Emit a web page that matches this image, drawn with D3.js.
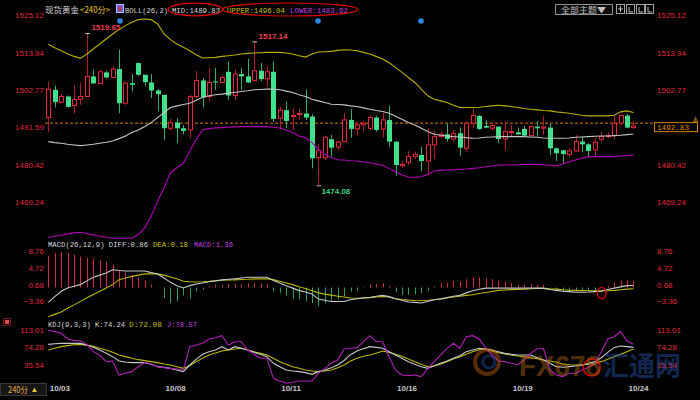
<!DOCTYPE html>
<html><head><meta charset="utf-8">
<script src="https://cdn.jsdelivr.net/npm/d3@7"></script>
<style>html,body{margin:0;padding:0;background:#000;}svg{display:block;}</style>
</head><body>
<svg id="chart" width="700" height="400"></svg>
<script>
// ---------- DATA ----------
const open=[1494.5,1502.8,1499.1,1500.8,1498.1,1500.0,1500.8,1506.8,1504.7,1508.0,
1506.5,1509.0,1498.8,1504.8,1510.8,1507.3,1505.0,1502.6,1501.3,1491.3,
1493.0,1491.3,1490.8,1500.8,1505.6,1500.8,1505.3,1505.0,1508.2,1501.1,
1507.5,1506.8,1505.6,1508.5,1506.1,1508.2,1494.3,1496.7,1494.8,1495.5,
1495.7,1494.8,1482.5,1482.5,1488.0,1485.7,1487.3,1493.8,1491.1,1492.3,
1491.3,1494.5,1491.1,1493.8,1487.3,1480.1,1481.1,1482.8,1483.3,1481.5,
1486.3,1488.8,1489.5,1488.1,1489.8,1485.3,1492.8,1495.0,1492.0,1491.3,
1491.8,1488.1,1490.1,1490.1,1491.1,1489.1,1491.8,1491.3,1491.5,1485.3,
1484.7,1483.5,1484.5,1487.3,1486.5,1484.8,1488.0,1488.8,1489.1,1492.8,
1495.1,1491.5];
const close=[1503.0,1499.1,1500.8,1497.7,1499.9,1500.8,1506.8,1504.7,1508.2,1506.5,
1509.0,1498.8,1504.8,1504.3,1507.3,1505.1,1502.6,1501.5,1491.3,1493.0,
1491.3,1490.5,1500.8,1505.6,1500.5,1505.0,1505.0,1506.5,1501.1,1507.5,
1506.8,1505.0,1508.5,1506.0,1508.2,1494.1,1496.7,1493.5,1495.1,1495.7,
1494.5,1482.3,1484.6,1488.6,1485.5,1487.2,1493.8,1491.1,1492.3,1492.8,
1494.5,1490.8,1493.8,1487.3,1480.3,1480.5,1482.8,1483.5,1481.5,1486.3,
1488.8,1489.5,1488.1,1489.7,1485.5,1492.8,1495.1,1491.1,1491.5,1492.1,
1488.1,1490.3,1490.3,1489.5,1489.1,1491.8,1491.3,1491.7,1485.3,1483.8,
1483.6,1484.5,1487.3,1486.5,1484.5,1487.1,1488.8,1489.1,1492.8,1495.1,
1491.5,1492.0];
const high=[1505.3,1504.1,1501.5,1501.1,1504.1,1504.9,1519.65,1508.8,1508.8,1508.5,
1509.8,1514.8,1505.3,1507.5,1511.0,1507.3,1507.5,1503.1,1501.3,1494.1,
1494.3,1492.3,1501.3,1508.5,1506.3,1509.3,1509.3,1507.0,1511.3,1508.9,
1509.3,1512.1,1517.14,1510.8,1509.8,1511.3,1497.7,1499.3,1497.3,1497.1,
1502.9,1495.5,1486.5,1489.1,1489.3,1487.5,1495.8,1497.0,1493.3,1493.3,
1495.1,1495.1,1495.8,1498.1,1487.3,1481.5,1484.5,1484.3,1485.8,1491.3,
1490.5,1490.3,1492.8,1490.8,1491.5,1493.3,1497.1,1495.3,1493.8,1492.8,
1491.8,1493.3,1492.3,1491.5,1492.0,1492.1,1493.5,1495.1,1492.8,1485.5,
1484.8,1485.5,1489.3,1488.8,1486.8,1488.5,1490.3,1490.1,1495.1,1495.5,
1495.5,1493.3];
const low=[1490.1,1497.5,1498.8,1497.5,1495.7,1498.3,1500.8,1504.7,1504.5,1506.2,
1506.3,1495.8,1498.3,1502.3,1507.0,1504.1,1500.3,1496.3,1487.8,1490.5,
1486.8,1489.5,1488.3,1500.3,1497.5,1499.5,1502.8,1504.8,1499.8,1499.8,
1502.8,1504.8,1505.6,1505.3,1503.8,1493.3,1491.3,1491.3,1490.8,1493.8,
1493.8,1479.3,1474.08,1481.8,1482.8,1484.8,1487.1,1488.5,1489.1,1490.3,
1490.8,1490.3,1488.5,1485.8,1477.1,1479.5,1480.3,1482.1,1478.5,1477.3,
1482.1,1488.5,1487.3,1487.3,1483.1,1484.3,1491.3,1490.8,1491.3,1490.5,
1486.8,1484.8,1488.8,1489.3,1488.8,1488.8,1488.8,1489.3,1483.3,1481.5,
1480.8,1482.8,1484.3,1484.1,1482.8,1482.8,1487.3,1488.3,1488.1,1492.3,
1491.3,1491.1];
const bollUpper=[1516.4,1515.4,1514.5,1513.6,1512.8,1512.2,1513.5,1515.0,1516.5,1518.0,
1519.5,1520.8,1522.0,1523.0,1523.8,1524.0,1523.8,1522.5,1519.5,1517.8,
1516.5,1515.5,1514.5,1513.3,1512.3,1512.4,1512.5,1512.8,1513.0,1513.2,
1513.5,1513.7,1513.8,1513.9,1514.0,1514.0,1514.0,1513.8,1513.5,1513.0,
1512.6,1513.5,1514.1,1514.2,1514.3,1514.6,1514.8,1514.7,1514.5,1514.0,
1513.5,1512.8,1512.0,1510.9,1509.5,1508.0,1506.5,1505.0,1503.0,1501.0,
1500.0,1499.5,1499.0,1498.2,1497.5,1497.5,1497.5,1497.6,1497.8,1498.0,
1498.2,1498.0,1497.8,1497.5,1497.2,1497.0,1496.8,1496.6,1496.5,1496.2,
1496.0,1495.8,1495.5,1495.2,1495.0,1495.0,1495.0,1495.0,1495.2,1496.2,
1496.5,1496.0];
const bollMid=[1487.3,1487.0,1486.8,1486.5,1486.3,1486.1,1486.3,1486.5,1486.8,1487.1,
1487.5,1488.2,1489.0,1490.0,1490.8,1491.8,1493.0,1494.5,1496.0,1497.5,
1498.0,1498.4,1498.8,1499.7,1500.6,1501.0,1501.3,1501.5,1501.8,1502.0,
1502.3,1502.5,1502.8,1502.9,1503.0,1503.0,1502.8,1502.4,1502.0,1501.3,
1500.8,1500.0,1499.5,1499.0,1498.5,1498.4,1498.3,1498.0,1497.8,1497.4,
1497.0,1496.6,1496.3,1495.8,1494.9,1494.0,1493.0,1492.3,1491.3,1490.3,
1489.5,1489.2,1489.0,1488.8,1488.7,1488.5,1488.3,1488.4,1488.6,1488.7,
1488.8,1488.8,1488.8,1488.8,1488.8,1488.7,1488.6,1488.4,1488.3,1488.3,
1488.3,1488.4,1488.6,1488.7,1488.8,1488.9,1489.0,1489.0,1489.1,1489.2,
1489.4,1489.6];
const bollLower=[1458.6,1459.0,1459.3,1459.7,1460.0,1460.2,1459.8,1459.4,1459.0,1458.7,
1458.4,1458.4,1458.4,1458.4,1459.5,1461.5,1465.0,1469.5,1473.5,1478.0,
1479.5,1480.8,1484.5,1488.0,1490.8,1491.2,1491.4,1491.5,1491.6,1491.7,
1491.8,1491.8,1491.8,1491.8,1491.8,1491.6,1491.4,1490.8,1490.0,1489.0,
1488.5,1487.0,1485.0,1483.5,1482.5,1481.9,1481.8,1481.6,1481.5,1481.2,
1481.0,1480.6,1480.2,1479.3,1478.3,1477.3,1476.7,1476.6,1476.8,1477.5,
1478.5,1478.7,1478.8,1478.9,1479.0,1479.1,1479.3,1479.5,1479.8,1480.0,
1480.3,1480.3,1480.4,1480.4,1480.5,1480.5,1480.5,1480.4,1480.2,1480.1,
1480.6,1481.3,1481.8,1482.3,1482.8,1482.8,1482.8,1482.8,1482.8,1483.0,
1483.1,1483.3];
const macdHist=[7.55,8.35,8.6,8.35,7.95,7.55,7.14,6.9,6.58,6.17,
5.53,4.15,3.68,2.94,2.3,1.65,0.68,0.1,-2.54,-3.75,
-3.35,-1.9,-2.7,-0.93,-0.5,0.3,0.7,0.55,0.85,0.9,
0.85,1.0,1.1,0.9,0.85,-0.9,-1.3,-2.1,-2.7,-2.9,
-3.35,-3.75,-4.55,-3.75,-3.35,-2.9,-2.1,-0.97,-0.8,0.16,
0.65,0.8,1.05,0.4,-1.13,-1.77,-1.77,-1.6,-1.37,-0.8,
0.24,1.05,1.2,1.6,1.45,2.0,2.5,2.42,2.26,2.0,
1.7,1.45,1.05,0.65,0.65,0.8,0.65,0.65,0.1,-0.56,
-0.97,-0.97,-0.97,-0.8,-0.8,-0.8,-0.1,0.4,1.2,1.7,
1.7,1.6];
const macdDiff=[-3.6,-2.2,-0.9,-0.1,0.3,0.7,1.6,2.5,3.0,3.5,
4.3,4.1,4.0,4.0,4.0,4.0,3.6,3.25,2.3,1.25,
0.45,-0.1,0.45,0.85,1.1,1.4,1.6,1.85,2.0,2.1,
2.3,2.5,2.5,2.5,2.5,1.7,1.1,0.45,-0.15,-0.75,
-1.1,-1.55,-2.8,-3.1,-3.4,-3.4,-3.4,-2.95,-2.7,-2.5,
-2.4,-2.1,-1.9,-2.2,-2.7,-3.1,-3.5,-3.6,-3.75,-3.4,
-2.95,-2.7,-2.4,-2.1,-1.9,-1.3,-0.8,-0.4,-0.15,-0.15,
-0.15,-0.15,-0.15,-0.15,-0.15,-0.15,-0.15,-0.2,-0.5,-0.7,
-0.9,-1.0,-1.15,-1.15,-1.1,-1.0,-0.9,-0.5,-0.15,0.15,
0.45,0.5];
const macdDea=[-7.1,-6.5,-5.9,-5.0,-4.2,-3.35,-2.5,-1.7,-0.9,-0.1,
0.7,1.9,2.3,2.7,3.0,3.3,3.3,3.3,3.0,2.55,
2.1,1.5,1.4,1.35,1.4,1.5,1.65,1.75,1.8,1.85,
1.95,2.0,2.1,2.1,2.1,1.9,1.5,1.1,0.7,0.2,
-0.25,-0.8,-1.3,-1.6,-1.85,-2.1,-2.3,-2.55,-2.6,-2.55,
-2.45,-2.3,-2.15,-2.3,-2.7,-2.9,-3.05,-3.15,-3.2,-3.1,
-2.95,-2.8,-2.55,-2.3,-2.1,-1.9,-1.75,-1.45,-1.2,-0.95,
-0.7,-0.6,-0.5,-0.45,-0.4,-0.3,-0.2,-0.15,-0.3,-0.4,
-0.55,-0.65,-0.7,-0.75,-0.8,-0.8,-0.8,-0.8,-0.7,-0.55,
-0.4,-0.3];
const kdjK=[80.8,82.3,83.0,83.0,83.0,83.0,79.4,74.2,68.3,60.9,
53.6,44.0,41.7,40.3,40.3,40.3,36.6,31.4,29.9,27.7,
24.1,20.4,35.1,47.7,58.7,64.6,68.3,75.7,68.3,75.7,
72.0,68.3,63.1,58.7,53.6,38.8,31.4,24.1,21.9,20.4,
18.2,14.5,20.4,24.1,29.2,35.1,45.0,58.0,66.0,71.0,
75.7,74.2,72.0,64.6,57.2,49.9,42.5,36.6,31.4,27.7,
33.6,38.8,44.0,49.9,55.7,64.6,68.3,72.0,70.5,68.3,
64.6,60.9,58.7,57.2,57.2,57.2,51.3,46.2,38.8,31.4,
30.0,31.4,32.9,35.1,38.8,42.5,51.3,63.1,73.5,77.2,
75.7,74.2];
const kdjD=[68.3,72.0,75.7,78.0,80.0,80.8,79.0,76.5,72.0,68.3,
63.1,57.2,53.6,49.9,46.9,44.7,42.5,40.3,37.3,35.1,
31.4,27.7,33.6,42.5,49.9,57.2,61.7,66.1,68.3,70.5,
72.0,68.3,64.6,60.9,57.2,49.9,42.5,36.6,31.4,27.7,
24.1,21.9,20.4,21.9,24.1,29.2,35.1,44.0,50.0,54.3,
57.2,60.9,66.1,63.1,58.7,54.3,48.4,42.5,36.6,31.4,
32.9,36.6,42.5,48.4,53.6,58.7,64.6,69.0,69.8,66.1,
62.4,59.5,57.2,55.0,53.6,51.3,49.1,46.2,44.0,41.0,
37.3,35.8,35.1,35.1,36.6,38.8,42.5,47.7,53.6,58.7,
64.6,70.5];
const kdjJ=[112.6,108.9,105.2,92.6,89.7,88.2,80.8,64.6,57.2,42.5,
44.0,13.0,16.7,20.4,31.4,41.0,36.6,31.4,29.2,27.7,
26.3,24.1,75.7,79.4,83.1,92.6,95.6,100.0,79.4,86.7,
86.7,68.3,58.7,49.9,49.9,5.6,-0.3,-5.4,-3.2,-0.3,
-0.3,-0.3,16.7,27.7,38.8,46.2,70.5,72.0,73.5,86.7,
100.0,86.7,86.7,53.5,24.1,13.0,11.5,13.0,9.3,26.3,
42.5,57.2,72.0,83.1,72.0,97.8,100.0,92.6,73.5,57.2,
44.0,42.5,38.8,35.1,46.2,60.9,70.5,72.0,24.1,13.0,
9.3,16.7,16.7,24.1,30.0,37.3,64.6,92.6,97.8,108.9,
88.2,80.8];
const dateLabels=["10/03","10/08","10/11","10/16","10/19","10/24"];
const dateIndex=[0,18,36,54,72,90];
const priceTicks=[1525.12,1513.94,1502.77,1491.59,1480.42,1469.24];
const priceTicksRight=[1525.12,1513.94,1502.77,1480.42,1469.24];
const macdTicks=[8.76,4.72,0.68,-3.36];
const kdjTicks=[113.01,74.28,35.54];
const lastPrice=1492.83;
const bollLegend=[["MID",1489.83],["UPPER",1496.04],["LOWER",1483.62]];
const macdLegend=[["DIFF",0.86],["DEA",0.18],["MACD",1.36]];
const kdjLegend=[["K",74.24],["D",72.08],["J",78.57]];
const markHigh=[6,32], markLow=[42];

// ---------- CHART ----------
const svg=d3.select("#chart");
svg.append("rect").attr("width",700).attr("height",400).attr("fill","#000");
const n=open.length;
const x=d3.scaleBand().domain(d3.range(n)).range([45.1,45.1+n*6.43]).padding(0);
const cx=i=>x(i)+x.bandwidth()/2;
const yP=d3.scaleLinear().domain([1469.24,1525.12]).range([202.0,15.2]);
const yM=d3.scaleLinear().domain([-3.36,8.76]).range([301.4,251.3]);
const yK=d3.scaleLinear().domain([35.54,113.01]).range([364.8,329.8]);
const RED="#e8283c", REDW="#b01c2c", GRN="#40e08c", GRNW="#2fb070";
const mono="'Liberation Mono','DejaVu Sans Mono',monospace";
const sans="'Liberation Sans',Arial,sans-serif";
const cjk="'Noto Sans CJK SC',sans-serif";

const defs=svg.append("defs");
defs.append("clipPath").attr("id","cp1").append("rect").attr("x",45).attr("y",0).attr("width",609).attr("height",240);

// axes
function axis(scale,ticks,side,xpos){
  const a=(side==="left"?d3.axisLeft(scale):d3.axisRight(scale)).tickValues(ticks).tickFormat(d3.format(".2f")).tickSize(0).tickPadding(0);
  const g=svg.append("g").attr("transform",`translate(${xpos},0)`).call(a);
  g.select(".domain").remove();
  g.selectAll("text").attr("fill","#e0283c").attr("font-family",sans).attr("font-size","8px");
}
axis(yP,priceTicks,"left",44); axis(yM,macdTicks,"left",44); axis(yK,kdjTicks,"left",44);
axis(yP,priceTicksRight,"right",657); axis(yM,macdTicks,"right",657); axis(yK,kdjTicks,"right",657);

// date axis
const xa=svg.append("g").attr("transform","translate(0,388)").call(d3.axisBottom(x).tickValues(dateIndex).tickFormat((d,i)=>dateLabels[i]).tickSize(0).tickPadding(0));
xa.select(".domain").remove();
xa.selectAll("text").attr("fill","#c8c8c8").attr("font-family",sans).attr("font-weight","bold").attr("font-size","8px").attr("text-anchor","start").attr("dx","1.5").attr("dy","0.35em");

// top panel
const topG=svg.append("g").attr("clip-path","url(#cp1)");
topG.append("line").attr("x1",45).attr("x2",654).attr("y1",yP(lastPrice)).attr("y2",yP(lastPrice))
  .attr("stroke","#d87a00").attr("stroke-dasharray","3,2").attr("stroke-width",1);
const cg=topG.append("g");
d3.range(n).forEach(i=>{
  const up=close[i]>=open[i];
  const xc=Math.round(cx(i))+0.5;
  cg.append("line").attr("x1",xc).attr("x2",xc).attr("y1",yP(high[i])).attr("y2",yP(low[i]))
    .attr("stroke",up?REDW:GRNW).attr("stroke-width",1);
  const yt=yP(Math.max(open[i],close[i])), yb=yP(Math.min(open[i],close[i]));
  const h=Math.max(1,yb-yt);
  if(up){
    cg.append("rect").attr("x",xc-2).attr("y",yt).attr("width",4).attr("height",Math.max(h,0.5))
      .attr("fill","#000").attr("stroke",RED).attr("stroke-width",1);
  } else {
    cg.append("rect").attr("x",xc-2.5).attr("y",yt).attr("width",5).attr("height",h).attr("fill",GRN);
  }
});
const lineP=d3.line().x((d,i)=>cx(i)).y(d=>yP(d));
[[bollUpper,"#b8b000"],[bollMid,"#c4c4c4"],[bollLower,"#b000b8"]].forEach(([d,c])=>{
  topG.append("path").attr("d",lineP(d)).attr("fill","none").attr("stroke",c).attr("stroke-width",1.1);
});
markHigh.forEach(i=>{
  const yy=yP(high[i]);
  svg.append("line").attr("x1",cx(i)-1.5).attr("x2",cx(i)+3).attr("y1",yy).attr("y2",yy).attr("stroke","#d0d0d0");
  svg.append("text").attr("x",cx(i)+4.5).attr("y",yy-3).text(d3.format(".2f")(high[i]))
    .attr("fill","#f03c50").attr("font-family",sans).attr("font-weight","bold").attr("font-size","8px");
});
markLow.forEach(i=>{
  const yy=yP(low[i]);
  svg.append("line").attr("x1",cx(i)-1.5).attr("x2",cx(i)+3).attr("y1",yy).attr("y2",yy).attr("stroke","#b0b0b0");
  svg.append("text").attr("x",cx(i)+3).attr("y",yy+8.5).text(d3.format(".2f")(low[i]))
    .attr("fill","#40d080").attr("font-family",sans).attr("font-weight","bold").attr("font-size","8px");
});

// price tag on right
svg.append("rect").attr("x",654.5).attr("y",yP(lastPrice)-0.5).attr("width",43).attr("height",9).attr("fill","#000").attr("stroke","#d88000");
svg.append("text").attr("x",657).attr("y",yP(lastPrice)+7).text(d3.format(".2f")(lastPrice))
  .attr("fill","#e08a00").attr("font-family",mono).attr("font-size","8px").attr("textLength",32).attr("lengthAdjust","spacingAndGlyphs");
svg.append("path").attr("d",`M693,${yP(lastPrice)-2} h5 M694,${yP(lastPrice)-4} h3 M695.5,${yP(lastPrice)-6} v1`).attr("stroke","#e08a00").attr("fill","none");

// blue dots
[[120,21],[318,21],[421,21]].forEach(([a,b])=>svg.append("circle").attr("cx",a).attr("cy",b).attr("r",2.8).attr("fill","#2a86e0"));

// header BOLL
function txt(t,xp,yp,w,c,font,fs){
  const e=svg.append("text").attr("x",xp).attr("y",yp).text(t).attr("fill",c).attr("font-family",font||mono).attr("font-size",(fs||7.4)+"px");
  if(w) e.attr("textLength",w).attr("lengthAdjust","spacingAndGlyphs");
  return e;
}
txt("现货黄金",45,12.5,34,"#d8d8d8",cjk,8.5);
txt("<240分>",80,12.5,30,"#e8c020",cjk,8.5);
svg.append("rect").attr("x",116.5).attr("y",4.5).attr("width",7).attr("height",8).attr("fill","#5060e0").attr("stroke","#c0c0ff");
svg.append("rect").attr("x",118.5).attr("y",6.5).attr("width",3).attr("height",4).attr("fill","#e03040");
txt("BOLL(26,2)",125,12.5,43,"#d8d8d8");
const bc=["#d8d8d8","#c8c000","#c040e0"], bx=[172,227,290], bw=[48,58,58];
bollLegend.forEach((d,i)=>txt(d[0]+":"+d3.format(".2f")(d[1]),bx[i],12.5,bw[i],bc[i]));
svg.append("ellipse").attr("cx",195.5).attr("cy",9.5).attr("rx",27.5).attr("ry",6.3).attr("fill","none").attr("stroke","#e00000").attr("stroke-width",1.2);
svg.append("ellipse").attr("cx",290.5).attr("cy",9.5).attr("rx",67.5).attr("ry",6.5).attr("fill","none").attr("stroke","#e00000").attr("stroke-width",1.2);

// top-right controls
svg.append("rect").attr("x",555.5).attr("y",4.5).attr("width",57).attr("height",10).attr("fill","#0c0c0c").attr("stroke","#909090");
txt("全部主题▼",561,13,45,"#c0c0c0",cjk,8);
[616,626,636,645].forEach((p,k)=>{
  svg.append("rect").attr("x",p+0.5).attr("y",4.5).attr("width",8).attr("height",9).attr("fill","none").attr("stroke","#a0a0a0");
  svg.append("path").attr("d",k===0?`M${p+4.5},6 v6 M${p+2},9 h5`:`M${p+3},7 v5 h4`).attr("stroke","#c0c0c0").attr("fill","none");
});

// MACD panel
const hz=yM(0);
d3.range(n).forEach(i=>{
  const v=macdHist[i], xc=Math.round(cx(i))+0.5;
  svg.append("line").attr("x1",xc).attr("x2",xc).attr("y1",hz).attr("y2",yM(v))
    .attr("stroke",v>=0?"#d42a46":"#2e9e62").attr("stroke-width",1);
});
const lineM=d3.line().x((d,i)=>cx(i)).y(d=>yM(d));
svg.append("path").attr("d",lineM(macdDea)).attr("fill","none").attr("stroke","#b8b800").attr("stroke-width",1.1);
svg.append("path").attr("d",lineM(macdDiff)).attr("fill","none").attr("stroke","#c8c8c8").attr("stroke-width",1.1);
txt("MACD(26,12,9) "+macdLegend[0][0]+":"+macdLegend[0][1].toFixed(2),48,247,100,"#d8d8d8",mono,7.2);
txt(macdLegend[1][0]+":"+macdLegend[1][1].toFixed(2),153,247,35,"#c8c000");
txt(macdLegend[2][0]+":"+macdLegend[2][1].toFixed(2),194,247,39,"#c040e0");
svg.append("ellipse").attr("cx",601.7).attr("cy",293).attr("rx",4.3).attr("ry",5.7).attr("fill","none").attr("stroke","#e00000").attr("stroke-width",1.3);

// KDJ panel
const lineK=d3.line().x((d,i)=>cx(i)).y(d=>yK(d));
svg.append("path").attr("d",lineK(kdjD)).attr("fill","none").attr("stroke","#b8b800").attr("stroke-width",1.1);
svg.append("path").attr("d",lineK(kdjK)).attr("fill","none").attr("stroke","#c8c8c8").attr("stroke-width",1.1);
svg.append("path").attr("d",lineK(kdjJ)).attr("fill","none").attr("stroke","#b020b8").attr("stroke-width",1.1);
txt("KDJ(9,3,3) "+kdjLegend[0][0]+":"+kdjLegend[0][1].toFixed(2),48,327,77,"#d8d8d8",mono,7.2);
txt(kdjLegend[1][0]+":"+kdjLegend[1][1].toFixed(2),129,327,33,"#c8c000");
txt(kdjLegend[2][0]+":"+kdjLegend[2][1].toFixed(2),167,327,30,"#c040e0");
svg.append("rect").attr("x",3.5).attr("y",318.5).attr("width",7).attr("height",7).attr("fill","none").attr("stroke","#e03030").attr("stroke-dasharray","1,1");
svg.append("rect").attr("x",5).attr("y",320).attr("width",4).attr("height",4).attr("fill","#f04040");
svg.append("circle").attr("cx",591.7).attr("cy",367.5).attr("r",8.5).attr("fill","none").attr("stroke","#e00000").attr("stroke-width",1.4);

// watermark
const wm=svg.append("g").attr("opacity",0.45);
wm.append("circle").attr("cx",487).attr("cy",362).attr("r",12).attr("fill","none").attr("stroke","#c06010").attr("stroke-width",4);
wm.append("circle").attr("cx",489).attr("cy",362).attr("r",6).attr("fill","none").attr("stroke","#2050a0").attr("stroke-width",3);
wm.append("text").attr("x",519).attr("y",376).text("FX678").attr("fill","#b06818").attr("font-family",sans).attr("font-weight","bold").attr("font-size","30px").attr("textLength",82).attr("lengthAdjust","spacingAndGlyphs");
wm.append("text").attr("x",603).attr("y",376).text("汇通网").attr("fill","#2858b0").attr("font-family",cjk).attr("font-weight","bold").attr("font-size","27px").attr("textLength",78).attr("lengthAdjust","spacingAndGlyphs");

// bottom-left period box
svg.append("rect").attr("x",0.5).attr("y",383.5).attr("width",46).attr("height",12).attr("fill","#161616").attr("stroke","#383838");
txt("240分",8,393,20,"#e8a848",cjk,8.5);
svg.append("path").attr("d","M32,392 L34.5,387.5 L37,392 Z").attr("fill","#e8c040");
</script>
</body></html>
